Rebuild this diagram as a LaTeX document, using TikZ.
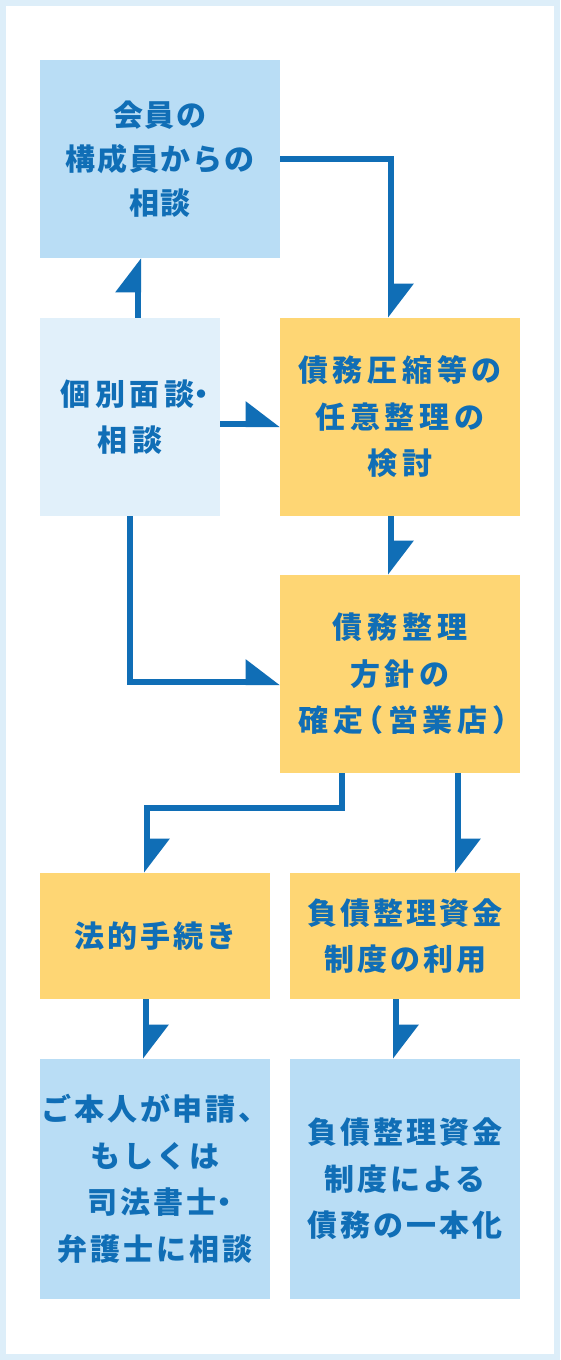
\documentclass[tikz,border=0pt]{standalone}
\usepackage{fontspec}
\setmainfont{Noto Sans CJK JP}
\newfontfamily\flowfont{Noto Sans CJK JP}[LetterSpace=10]
\newfontfamily\flowwide{Noto Sans CJK JP}[LetterSpace=16]
\newfontfamily\flowtight{Noto Sans CJK JP}[LetterSpace=6]
\newcommand\narrowdot{\kern-8pt・\kern-17pt}
\usetikzlibrary{arrows.meta}
\definecolor{flowblue}{HTML}{106EB6}
\definecolor{paleblue}{HTML}{B9DDF5}
\definecolor{palerblue}{HTML}{E1F0FA}
\definecolor{softyellow}{HTML}{FED674}
\definecolor{framecol}{HTML}{DDEEF9}

\begin{document}
\begin{tikzpicture}[x=1pt,y=-1pt,>={Triangle[harpoon,length=30pt,width=44pt]},
  box/.style={inner sep=0pt,align=center,text=flowblue,font=\flowfont\fontsize{30}{46.5}\selectfont\bfseries},
  widebox/.style={box,font=\flowwide\fontsize{30}{46.5}\selectfont\bfseries},
  tightbox/.style={box,font=\flowtight\fontsize{30}{44}\selectfont\bfseries},
  link/.style={->,draw=flowblue,line width=6pt}]
% frame
\fill[framecol] (0,0) rectangle (560,1360);
\fill[white] (6,6) rectangle (554,1354);
% boxes
\node[tightbox,fill=paleblue,minimum width=240pt,minimum height=198pt] (member) at (160,159) {会員の\\構成員からの\\相談};
\node[widebox,fill=palerblue,minimum width=180pt,minimum height=198pt] (interview) at (130,417) {個別面談\narrowdot\\相談};
\node[widebox,fill=softyellow,minimum width=240pt,minimum height=198pt] (voluntary) at (400,417) {債務圧縮等の\\任意整理の\\検討};
\node[widebox,fill=softyellow,minimum width=240pt,minimum height=198pt] (policy) at (400,674) {債務整理\\方針の\\確定\kern-10pt（営業店）\kern-21pt};
\node[box,fill=softyellow,minimum width=230pt,minimum height=126pt] (legal) at (155,936) {法的手続き};
\node[box,fill=softyellow,minimum width=230pt,minimum height=126pt] (fund) at (405,936) {負債整理資金\\制度の利用};
\node[box,fill=paleblue,minimum width=230pt,minimum height=240pt] (apply) at (155,1179) {ご本人が申請、\\もしくは\\司法書士\narrowdot\\弁護士に相談};
\node[box,fill=paleblue,minimum width=230pt,minimum height=240pt] (unify) at (405,1179) {負債整理資金\\制度による\\債務の一本化};
% connectors
\draw[link] ([xshift=8pt]interview.north) -- ([xshift=8pt]interview.north |- member.south);
\draw[link] (member.east) -| ([xshift=-9pt]voluntary.north);
\draw[link] ([yshift=-7pt]interview.east) -- ([yshift=-7pt]voluntary.west);
\draw[link] ([xshift=-9pt]voluntary.south) -- ([xshift=-9pt]policy.north);
\draw[link] (interview.south) |- ([yshift=-8pt]policy.west);
\draw[link] ([xshift=-58pt]policy.south) -- ++(0,35) -| ([xshift=-8pt]legal.north);
\draw[link] ([xshift=58pt]policy.south) -- ([xshift=58pt]policy.south |- fund.north);
\draw[link] ([xshift=-9pt]legal.south) -- ([xshift=-9pt]apply.north);
\draw[link] ([xshift=-9pt]fund.south) -- ([xshift=-9pt]unify.north);
\end{tikzpicture}
\end{document}
